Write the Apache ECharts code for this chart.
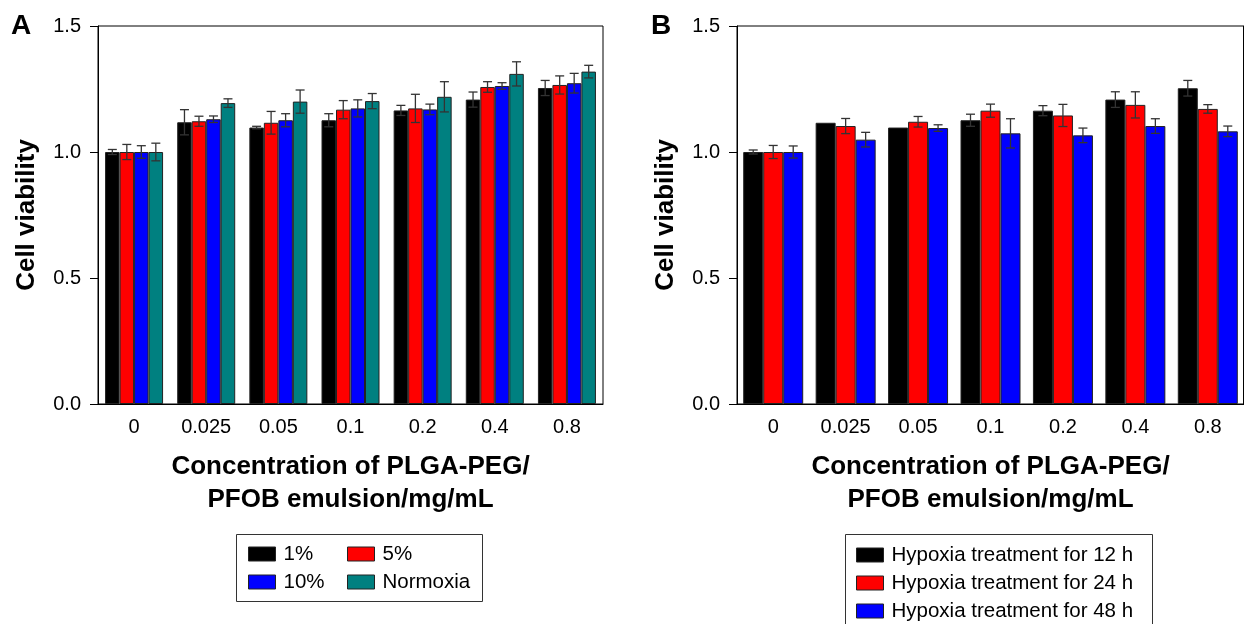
<!DOCTYPE html>
<html><head><meta charset="utf-8">
<script src="https://cdn.jsdelivr.net/npm/echarts@6/dist/echarts.min.js"></script>
<style>html,body{margin:0;padding:0;background:#fff}#c{width:1244px;height:624px}</style>
</head><body><div id="c"></div>
<script>
// ---------- data ----------
const categories = ['0', '0.025', '0.05', '0.1', '0.2', '0.4', '0.8'];

// Panel A
const aNames = ['1%', '5%', '10%', 'Normoxia'];
const aColors = ['#000000', '#ff0000', '#0000ff', '#008080'];
const a1 = [1.00, 1.118, 1.097, 1.126, 1.165, 1.208, 1.254];
const a5 = [1.00, 1.122, 1.116, 1.168, 1.173, 1.258, 1.266];
const a10 = [1.00, 1.130, 1.126, 1.173, 1.169, 1.262, 1.273];
const aNorm = [1.00, 1.194, 1.200, 1.202, 1.219, 1.310, 1.319];
const a1Err = [0.010, 0.050, 0.005, 0.026, 0.020, 0.030, 0.030];
const a5Err = [0.030, 0.020, 0.045, 0.036, 0.056, 0.021, 0.036];
const a10Err = [0.025, 0.013, 0.026, 0.034, 0.021, 0.013, 0.039];
const aNormErr = [0.035, 0.017, 0.046, 0.030, 0.060, 0.048, 0.025];

// Panel B
const bNames = ['Hypoxia treatment for 12 h', 'Hypoxia treatment for 24 h', 'Hypoxia treatment for 48 h'];
const bColors = ['#000000', '#ff0000', '#0000ff'];
const b12 = [1.00, 1.116, 1.097, 1.126, 1.164, 1.208, 1.253];
const b24 = [1.00, 1.103, 1.120, 1.164, 1.145, 1.187, 1.171];
const b48 = [1.00, 1.049, 1.095, 1.074, 1.066, 1.103, 1.082];
const b12Err = [0.008, 0.000, 0.000, 0.024, 0.020, 0.031, 0.031];
const b24Err = [0.026, 0.030, 0.021, 0.026, 0.044, 0.052, 0.017];
const b48Err = [0.024, 0.029, 0.013, 0.058, 0.029, 0.029, 0.021];

const yMin = 0, yMax = 1.5, yInterval = 0.5;
const xTitle = 'Concentration of PLGA-PEG/\nPFOB emulsion/mg/mL';
const yTitle = 'Cell viability';

// ---------- chart ----------
const FONT = '"Liberation Sans", Arial, sans-serif';
const chart = echarts.init(document.getElementById('c'), null, {renderer: 'canvas'});

function xAxisCfg(gi) {
  return {
    type: 'category', gridIndex: gi, data: categories,
    axisLine: {lineStyle: {color: '#000', width: 1}},
    axisTick: {alignWithLabel: true, length: 7, lineStyle: {color: '#000'}},
    axisLabel: {color: '#000', fontSize: 20, fontFamily: FONT, margin: 13},
    name: xTitle, nameLocation: 'middle', nameGap: 46,
    nameTextStyle: {color: '#000', fontSize: 26, fontWeight: 'bold', fontFamily: FONT, lineHeight: 33}
  };
}
function yAxisCfg(gi) {
  return {
    type: 'value', gridIndex: gi, min: yMin, max: yMax, interval: yInterval,
    axisLine: {show: true, lineStyle: {color: '#000', width: 1}},
    axisTick: {show: true, length: 8, lineStyle: {color: '#000'}},
    splitLine: {show: false},
    axisLabel: {color: '#000', fontSize: 20, fontFamily: FONT, margin: 17, formatter: v => v.toFixed(1)},
    name: yTitle, nameLocation: 'middle', nameGap: 58,
    nameTextStyle: {color: '#000', fontSize: 26, fontWeight: 'bold', fontFamily: FONT}
  };
}

function barSeries(name, data, color, gi, bw) {
  return {
    type: 'bar', name: name, data: data, xAxisIndex: gi, yAxisIndex: gi,
    barWidth: bw, barGap: '0%',
    itemStyle: {color: color, borderColor: '#222', borderWidth: 1},
    emphasis: {disabled: true}, z: 2
  };
}
function errSeries(vals, errs, k, n, bw, gi) {
  const data = vals.map((v, i) => [i, v, errs[i]]);
  return {
    type: 'custom', xAxisIndex: gi, yAxisIndex: gi, data: data, z: 5, silent: true,
    encode: {x: 0, y: 1},
    renderItem: function (params, api) {
      const i = api.value(0), v = api.value(1), e = api.value(2);
      if (!e) return null;
      const off = (k - (n - 1) / 2) * bw;
      const hi = api.coord([i, v + e]);
      const lo = api.coord([i, v - e]);
      const x = hi[0] + off;
      const cw = 4.5;
      const st = {stroke: '#333', lineWidth: 1.3};
      return {
        type: 'group', children: [
          {type: 'line', shape: {x1: x, y1: hi[1], x2: x, y2: lo[1]}, style: st},
          {type: 'line', shape: {x1: x - cw, y1: hi[1], x2: x + cw, y2: hi[1]}, style: st},
          {type: 'line', shape: {x1: x - cw, y1: lo[1], x2: x + cw, y2: lo[1]}, style: st}
        ]
      };
    }
  };
}

const bwA = 14.5, bwB = 20;
const aVals = [a1, a5, a10, aNorm];
const aErrs = [a1Err, a5Err, a10Err, aNormErr];
const bVals = [b12, b24, b48];
const bErrs = [b12Err, b24Err, b48Err];

const series = [];
aVals.forEach((d, k) => series.push(barSeries(aNames[k], d, aColors[k], 0, bwA)));
bVals.forEach((d, k) => series.push(barSeries(bNames[k], d, bColors[k], 1, bwB)));
aVals.forEach((d, k) => series.push(errSeries(d, aErrs[k], k, 4, bwA, 0)));
bVals.forEach((d, k) => series.push(errSeries(d, bErrs[k], k, 3, bwB, 1)));

const legendText = {color: '#000', fontSize: 20.5, fontFamily: FONT, lineHeight: 28, padding: [0, 0, 0, 3]};
function legendCfg(names, left, top) {
  return {
    data: names, orient: 'vertical', left: left, top: top,
    itemWidth: 27, itemHeight: 14, itemGap: 0, padding: 0,
    selectedMode: false, icon: 'rect',
    itemStyle: {borderColor: '#222', borderWidth: 1},
    textStyle: legendText
  };
}

const option = {
  animation: false,
  backgroundColor: '#fff',
  grid: [
    {left: 98, top: 26, width: 505, height: 378, show: true, borderColor: '#000', borderWidth: 1, backgroundColor: 'transparent'},
    {left: 737, top: 26, width: 513, height: 378, show: true, borderColor: '#000', borderWidth: 1, backgroundColor: 'transparent'}
  ],
  xAxis: [xAxisCfg(0), xAxisCfg(1)],
  yAxis: [yAxisCfg(0), yAxisCfg(1)],
  legend: [
    legendCfg(['1%', '10%'], 248, 540),
    legendCfg(['5%', 'Normoxia'], 347, 540),
    legendCfg([bNames[0]], 856, 541),
    legendCfg([bNames[1]], 856, 569),
    legendCfg([bNames[2]], 856, 597)
  ],
  graphic: [
    {type: 'rect', shape: {x: 236.5, y: 534.5, width: 246, height: 67}, style: {fill: 'none', stroke: '#333', lineWidth: 1}},
    {type: 'rect', shape: {x: 845.5, y: 534.5, width: 307, height: 100}, style: {fill: 'none', stroke: '#333', lineWidth: 1}},
    {type: 'line', shape: {x1: 1243.5, y1: 26, x2: 1243.5, y2: 404}, style: {stroke: '#000', lineWidth: 1}},
    {type: 'text', left: 11, top: 12, style: {text: 'A', fill: '#000', font: 'bold 28px ' + FONT}},
    {type: 'text', left: 651, top: 12, style: {text: 'B', fill: '#000', font: 'bold 28px ' + FONT}}
  ],
  series: series
};
chart.setOption(option);
</script>
</body></html>
